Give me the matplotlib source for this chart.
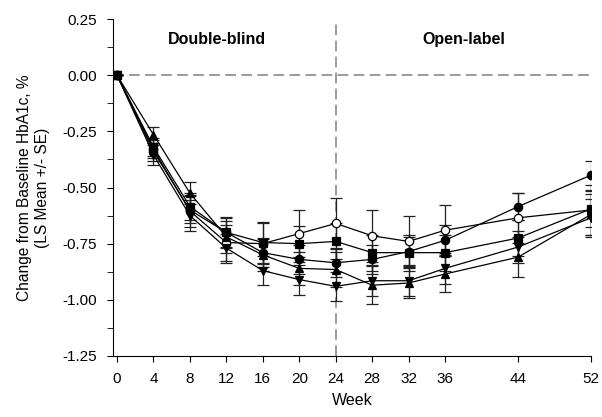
import numpy as np
import matplotlib
matplotlib.use("Agg")
from matplotlib import pyplot as plt
from matplotlib.ticker import MultipleLocator

weeks = [0, 4, 8, 12, 16, 20, 24, 28, 32, 36, 44, 52]

# LS mean change from baseline, one list per treatment arm
circle_filled = [0, -0.34, -0.60, -0.70, -0.79, -0.82, -0.835, -0.82, -0.785, -0.735, -0.585, -0.445]
circle_open = [0, -0.33, -0.605, -0.745, -0.75, -0.705, -0.66, -0.715, -0.74, -0.69, -0.635, -0.60]
square = [0, -0.32, -0.585, -0.70, -0.745, -0.75, -0.74, -0.79, -0.79, -0.79, -0.725, -0.595]
tri_up = [0, -0.265, -0.525, -0.72, -0.80, -0.86, -0.865, -0.935, -0.925, -0.885, -0.81, -0.62]
tri_down = [0, -0.355, -0.625, -0.77, -0.87, -0.91, -0.94, -0.915, -0.915, -0.86, -0.765, -0.635]

# standard errors
se_circle_filled = [0, 0.04, 0.06, 0.065, 0.065, 0.065, 0.065, 0.065, 0.065, 0.07, 0.06, 0.065]
se_circle_open = [0, 0.04, 0.07, 0.08, 0.09, 0.105, 0.115, 0.115, 0.115, 0.11, 0.11, 0.11]
se_square = [0, 0.04, 0.06, 0.07, 0.09, 0.08, 0.08, 0.08, 0.08, 0.08, 0.08, 0.08]
se_tri_up = [0, 0.035, 0.05, 0.07, 0.07, 0.075, 0.08, 0.085, 0.065, 0.08, 0.09, 0.09]
se_tri_down = [0, 0.045, 0.07, 0.065, 0.065, 0.067, 0.065, 0.07, 0.07, 0.07, 0.07, 0.085]

week_ticks = [0, 4, 8, 12, 16, 20, 24, 28, 32, 36, 44, 52]

series = [
    (circle_filled, se_circle_filled, 'o', 'black'),
    (circle_open, se_circle_open, 'o', 'white'),
    (square, se_square, 's', 'black'),
    (tri_up, se_tri_up, '^', 'black'),
    (tri_down, se_tri_down, 'v', 'black'),
]

plt.rcParams['font.family'] = ['Liberation Sans', 'DejaVu Sans']

fig = plt.figure(figsize=(6.02, 4.17), dpi=100)
ax = fig.add_axes([0.1877, 0.1463, 0.7940, 0.8081])

ax.axhline(0, color='#808080', lw=1.1, ls=(0, (7, 3.5)), zorder=1)
ax.axvline(24, color='#808080', lw=1.1, ls=(0, (7, 3.5)), zorder=1)

for vals, se, mk, fc in series:
    ax.errorbar(weeks, vals, yerr=se, color='black', lw=0.9, marker=mk,
                markersize=6, markerfacecolor=fc, markeredgecolor='black',
                markeredgewidth=0.9, ecolor='#222222', elinewidth=0.9,
                capsize=4, capthick=0.9, zorder=3)

ax.set_xlim(-0.44, 52)
ax.set_ylim(-1.25, 0.25)
ax.set_xticks(week_ticks)
ax.yaxis.set_major_locator(MultipleLocator(0.25))
ax.yaxis.set_minor_locator(MultipleLocator(0.125))
ax.yaxis.set_major_formatter(matplotlib.ticker.FormatStrFormatter('%.2f'))
ax.tick_params(axis='both', which='major', direction='out', length=4.5, labelsize=11, pad=7)
ax.tick_params(axis='y', which='minor', direction='out', length=4.5)
for s in ['top', 'right']:
    ax.spines[s].set_visible(False)

ax.text(11.0, 0.159, 'Double-blind', ha='center', va='center', fontsize=11.5, fontweight='bold')
ax.text(38.1, 0.159, 'Open-label', ha='center', va='center', fontsize=11.5, fontweight='bold')

ax.set_xlabel('Week', fontsize=11.5, labelpad=5)
ax.set_ylabel('Change from Baseline HbA1c, %\n(LS Mean +/- SE)', fontsize=11.2, labelpad=9)

fig.savefig('out.png', dpi=100)
